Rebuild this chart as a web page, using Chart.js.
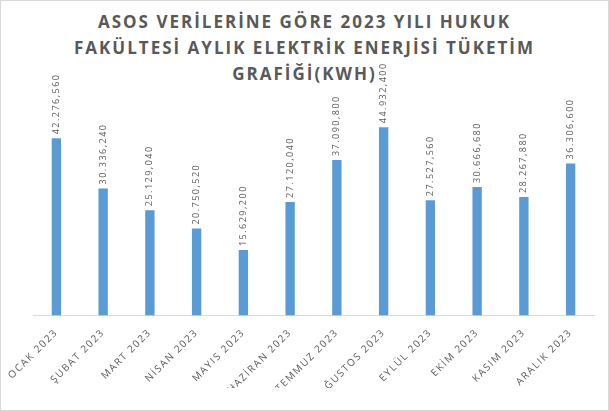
<!DOCTYPE html>
<html><head><meta charset="utf-8">
<script src="https://cdn.jsdelivr.net/npm/chart.js@4"></script>
<style>
html,body{margin:0;padding:0;background:#fff}
#wrap{position:absolute;left:0;top:0;width:607px;height:409px;border:1px solid #d9d9d9}
#t{position:absolute;left:0;top:8px;width:607px;text-align:center;font-family:"Open Sans",sans-serif;font-weight:bold;font-size:17px;line-height:26px;letter-spacing:2px;color:#595959}
#c{position:absolute;left:0;top:0}
</style></head><body>
<div id="wrap"><div id="t">ASOS VERİLERİNE GÖRE 2023 YILI HUKUK<br>FAKÜLTESİ AYLIK ELEKTRİK ENERJİSİ TÜKETİM<br>GRAFİĞİ(KWH)</div>
<canvas id="c" width="607" height="409"></canvas></div>
<script>
const categories=["OCAK 2023","ŞUBAT 2023","MART 2023","NİSAN 2023","MAYIS 2023","HAZİRAN 2023","TEMMUZ 2023","AĞUSTOS 2023","EYLÜL 2023","EKİM 2023","KASIM 2023","ARALIK 2023"];
const values=[42276.560,30336.240,25129.040,20750.520,15629.200,27120.040,37090.800,44932.400,27527.560,30666.680,28267.880,36306.600];
const labels=["42.276,560","30.336,240","25.129,040","20.750,520","15.629,200","27.120,040","37.090,800","44.932,400","27.527,560","30.666,680","28.267,880","36.306,600"];
const lbl={id:'lbl',afterDatasetsDraw(ch){const c=ch.ctx;const m=ch.getDatasetMeta(0);c.save();c.font='9px "Open Sans",sans-serif';c.fillStyle='#595959';c.textAlign='left';c.textBaseline='middle';
m.data.forEach((b,i)=>{c.save();c.translate(b.x,b.y-4);c.rotate(-Math.PI/2);c.fillText(labels[i],0,0);c.restore();});c.restore();}};
const sp={id:'sp',beforeDraw(ch){ch.ctx.letterSpacing='1.5px';}};
new Chart(document.getElementById('c'),{type:'bar',data:{labels:categories,datasets:[{data:values,backgroundColor:'#5B9BD5',barPercentage:0.2,categoryPercentage:1}]},
options:{responsive:false,animation:false,layout:{padding:{top:105,left:32,right:14,bottom:22}},
plugins:{legend:{display:false},tooltip:{enabled:false}},
scales:{y:{display:false,min:0,max:50000},x:{grid:{display:false},border:{color:'#d9d9d9'},ticks:{color:'#595959',font:{family:'"Open Sans",sans-serif',size:10},minRotation:45,maxRotation:45,autoSkip:false}}}},plugins:[lbl,sp]});
</script></body></html>
